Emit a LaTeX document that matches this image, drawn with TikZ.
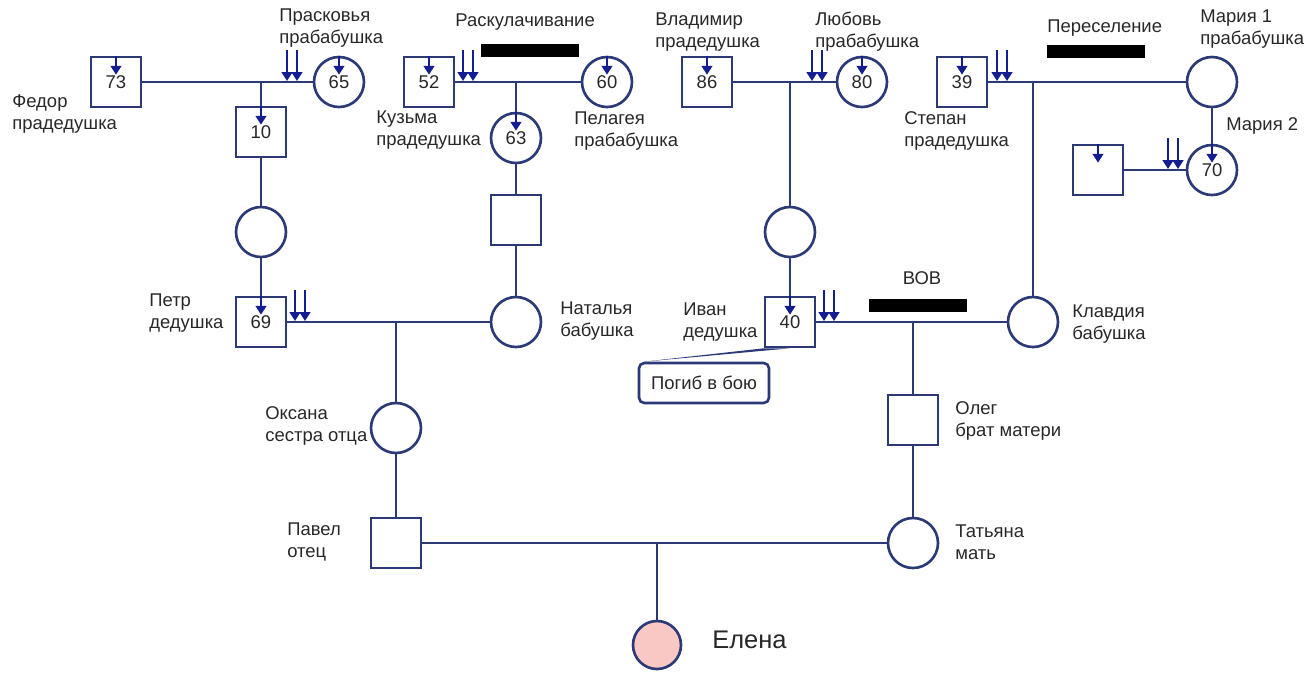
\documentclass[tikz,border=0pt]{standalone}
\usepackage{fontspec}
\setmainfont{Liberation Sans}
\usepackage{tikz}
\usetikzlibrary{arrows.meta, calc, positioning}
\definecolor{linecol}{RGB}{43,58,118}
\definecolor{arrcol}{RGB}{20,30,145}
\definecolor{selfcol}{RGB}{249,200,197}
\definecolor{txtcol}{RGB}{40,40,40}
\tikzstyle{male} = [rectangle, draw=linecol, line width=1.5pt, fill=white, minimum size=1cm, inner sep=0pt, text=txtcol, font=\fontsize{10.5}{12.5}\selectfont]
\tikzstyle{female} = [circle, draw=linecol, line width=1.5pt, fill=white, minimum size=1cm, inner sep=0pt, text=txtcol, font=\fontsize{10.5}{12.5}\selectfont]
\tikzstyle{link} = [draw=linecol, line width=1.5pt]
\tikzstyle{inarrow} = [draw=arrcol, line width=1.2pt, -{Triangle[length=5pt,width=6pt]}]
\tikzstyle{lbl} = [align=left, anchor=west, inner sep=0pt, text=txtcol, font=\fontsize{10.5}{12.5}\selectfont]
\tikzstyle{bar} = [fill=black, minimum width=1.96cm, minimum height=0.26cm, inner sep=0pt]
\tikzstyle{note} = [draw=linecol, line width=1.5pt, rounded corners=3pt, fill=white, minimum width=2.6cm, minimum height=0.8cm, text=txtcol, font=\fontsize{10.5}{12.5}\selectfont]

\begin{document}
\begin{tikzpicture}[x=0.02cm, y=-0.02cm]
	\useasboundingbox (0,0) rectangle (1306,674);
	% great-grandparents
	\node (f73) [male] at (116,82) {73};
	\node (p65) [female] at (339,82) {65};
	\node (k52) [male] at (429,82) {52};
	\node (p60) [female] at (607,82) {60};
	\node (v86) [male] at (707,82) {86};
	\node (l80) [female] at (862,82) {80};
	\node (s39) [male] at (962,82) {39};
	\node (m1) [female] at (1212,82) {};
	\node (m70) [female] at (1212,170) {70};
	\node (sq2) [male] at (1098,170) {};
	% grandparents line
	\node (n10) [male] at (261,132) {10};
	\node (c1) [female] at (261,232) {};
	\node (n69) [male] at (261,322) {69};
	\node (n63) [female] at (516,138) {63};
	\node (sq1) [male] at (516,220) {};
	\node (nat) [female] at (516,322) {};
	\node (c2) [female] at (790,232) {};
	\node (i40) [male] at (790,322) {40};
	\node (kla) [female] at (1033,322) {};
	% parents
	\node (oks) [female] at (396,428) {};
	\node (pav) [male] at (396,543) {};
	\node (ole) [male] at (913,420) {};
	\node (tat) [female] at (913,543) {};
	\node (ele) [female, fill=selfcol, minimum size=0.96cm] at (657,645) {};

	% drop points
	\coordinate (dF) at (261,82);
	\coordinate (dK) at (516,82);
	\coordinate (dV) at (790,82);
	\coordinate (dS) at (1033,82);
	\coordinate (dP) at (396,322);
	\coordinate (dI) at (913,322);
	\coordinate (dE) at (657,543);

	% marriages and descent
	\draw[link] (f73) -- (p65);
	\draw[link] (dF) -- (n10);
	\draw[link] (n10) -- (c1);
	\draw[link] (c1) -- (n69);
	\draw[link] (k52) -- (p60);
	\draw[link] (dK) -- (n63);
	\draw[link] (n63) -- (sq1);
	\draw[link] (sq1) -- (nat);
	\draw[link] (n69) -- (nat);
	\draw[link] (dP) -- (oks);
	\draw[link] (oks) -- (pav);
	\draw[link] (v86) -- (l80);
	\draw[link] (dV) -- (c2);
	\draw[link] (c2) -- (i40);
	\draw[link] (s39) -- (m1);
	\draw[link] (dS) -- (kla);
	\draw[link] (m1) -- (m70);
	\draw[link] (sq2) -- (m70);
	\draw[link] (i40) -- (kla);
	\draw[link] (dI) -- (ole);
	\draw[link] (ole) -- (tat);
	\draw[link] (pav) -- (tat);
	\draw[link] (dE) -- (ele);

	% small arrows inside
	\foreach \n in {f73,p65,k52,p60,v86,l80,s39,sq2,m70,n10,n63,n69,i40}
		\draw[inarrow] (\n.north) -- ++(0,19);

	% double arrows
	\coordinate (wPr) at (287,82);
	\coordinate (wKu) at (463,82);
	\coordinate (wLu) at (812,82);
	\coordinate (wSt) at (997,82);
	\coordinate (wMa) at (1168,170);
	\coordinate (wPe) at (295,322);
	\coordinate (wIv) at (824,322);
	\foreach \c in {wPr,wKu,wLu,wSt,wMa,wPe,wIv} {
		\draw[inarrow] (\c) ++(0,-32) -- ++(0,31);
		\draw[inarrow] (\c) ++(10,-32) -- ++(0,31);
	}

	% events
	\node (tRask) [lbl] at (455,22) {Раскулачивание};
	\node (bRask) [bar] at (530,50.5) {};
	\node (tPer) [lbl] at (1047,28) {Переселение};
	\node (bPer) [bar] at (1096,51) {};
	\node (tVov) [lbl, anchor=center] at (922,278) {ВОВ};
	\node (bVov) [bar] at (918,305) {};
	\node (gib) [note] at (704,383) {Погиб в бою};
	\fill[linecol] ([xshift=0.12cm]gib.north west) -- (i40.south west) -- (i40.south) -- cycle;

	% names
	\node (lFed) [lbl] at (12,114) {Федор\\прадедушка};
	\node (lPra) [lbl] at (279,28) {Прасковья\\прабабушка};
	\node (lKuz) [lbl] at (376,130) {Кузьма\\прадедушка};
	\node (lPel) [lbl] at (574,131) {Пелагея\\прабабушка};
	\node (lVla) [lbl] at (655,32) {Владимир\\прадедушка};
	\node (lLub) [lbl] at (815,32) {Любовь\\прабабушка};
	\node (lSte) [lbl] at (904,131) {Степан\\прадедушка};
	\node (lMa1) [lbl] at (1200,29) {Мария 1\\прабабушка};
	\node (lMa2) [lbl] at (1226,126) {Мария 2};
	\node (lPet) [lbl] at (149,313) {Петр\\дедушка};
	\node (lNat) [lbl] at (560,321) {Наталья\\бабушка};
	\node (lIva) [lbl] at (683,322) {Иван\\дедушка};
	\node (lKla) [lbl] at (1072,324) {Клавдия\\бабушка};
	\node (lOks) [lbl] at (265,426) {Оксана\\сестра отца};
	\node (lOle) [lbl] at (955,421) {Олег\\брат матери};
	\node (lPav) [lbl] at (287,542) {Павел\\отец};
	\node (lTat) [lbl] at (955,542) {Татьяна\\мать};
	\node (lEle) [lbl, font=\fontsize{14.5}{17}\selectfont] at (712,640) {Елена};
\end{tikzpicture}
\end{document}
